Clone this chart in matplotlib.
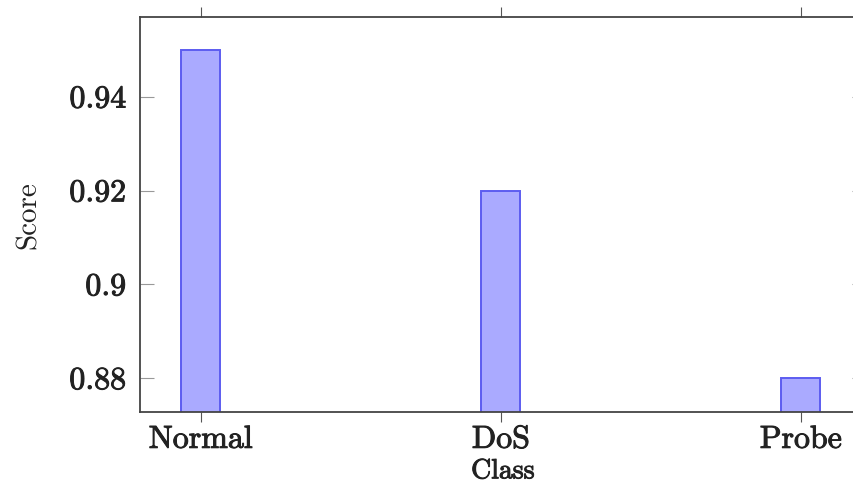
import matplotlib
matplotlib.use('Agg')
import matplotlib.pyplot as plt
import matplotlib.patheffects as pe

# Datos de la grafica
clases = ['Normal', 'DoS', 'Probe']
puntajes = [0.95, 0.92, 0.88]
yticks = [0.88, 0.9, 0.92, 0.94]
yticklabels = ['0.88', '0.9', '0.92', '0.94']

plt.rcParams['font.family'] = 'cmr10'
plt.rcParams['axes.unicode_minus'] = False

COLOR_TXT = '#222222'
# trazo fino alrededor del texto para engrosarlo un poco
grueso = [pe.withStroke(linewidth=0.7, foreground=COLOR_TXT)]

fig = plt.figure(figsize=(8.54, 4.87), dpi=100)
ax = fig.add_axes([0.1639, 0.153, 0.85, 0.812])

pos = list(range(len(clases)))
ax.bar(pos, puntajes, width=0.13, color='#aaaaff', edgecolor='#5c5cf0',
       linewidth=1.4, zorder=2)

ax.set_xlim(-0.203, 2.217)
ax.set_ylim(0.8727, 0.957)

ax.set_xticks(pos)
ax.set_xticklabels(clases, fontsize=23, color=COLOR_TXT)
ax.set_yticks(yticks)
ax.set_yticklabels(yticklabels, fontsize=23, color=COLOR_TXT)
for t in ax.get_xticklabels() + ax.get_yticklabels():
    t.set_path_effects(grueso)

ax.tick_params(axis='x', direction='out', top=True, length=7, width=0.8,
               color='#555555', pad=3)
ax.tick_params(axis='y', direction='in', right=True, length=10, width=0.8,
               color='#999999', pad=10)

for s in ax.spines.values():
    s.set_color('#444444')
    s.set_linewidth(1.3)

ax.set_xlabel('Class', fontsize=20, color=COLOR_TXT, labelpad=3,
              path_effects=grueso)
ax.set_ylabel('Score', fontsize=21, color=COLOR_TXT, labelpad=20)

fig.savefig('out.png', dpi=100)
